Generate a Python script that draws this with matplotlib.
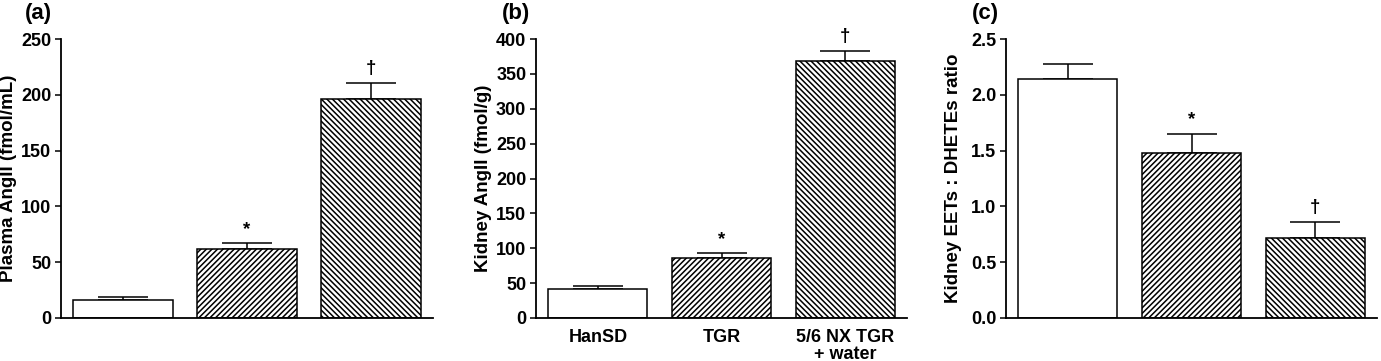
import numpy as np
import matplotlib
matplotlib.use('Agg')
import matplotlib.pyplot as plt

# data
groups = ['HanSD', 'TGR', '5/6 NX TGR\n+ water']
plasma_ang = [16, 62, 196]
plasma_err = [3, 5, 15]
kidney_ang = [41.5, 86.5, 369]
kidney_err = [4.5, 6, 14]
eet_ratio = [2.14, 1.48, 0.72]
eet_err = [0.135, 0.17, 0.14]

signif = ['', '*', '\u2020']
hatches = ['', '//////', '\\\\\\\\\\\\']

plt.rcParams['font.family'] = ['Liberation Sans', 'DejaVu Sans']
plt.rcParams['font.weight'] = 'bold'
plt.rcParams['hatch.linewidth'] = 1.1

fig = plt.figure(figsize=(13.81, 3.61), dpi=100)

panels = [
    # left, right, values, errors, ylim, ticks, ylabel, tick fmt, letter, letter x, show x labels
    (61, 433, plasma_ang, plasma_err, 250, np.arange(0, 251, 50), 'Plasma AngII (fmol/mL)', '{:.0f}', '(a)', 25, False),
    (536, 907, kidney_ang, kidney_err, 400, np.arange(0, 401, 50), 'Kidney AngII (fmol/g)', '{:.0f}', '(b)', 502, True),
    (1006, 1377, eet_ratio, eet_err, 2.5, np.arange(0, 2.51, 0.5), 'Kidney EETs : DHETEs ratio', '{:.1f}', '(c)', 972, False),
]
W, H = 1381, 361
bottom, top = 318, 39
for left, right, vals, errs, ymax, ticks, ylab, fmt, letter, lx, xlabels in panels:
    ax = fig.add_axes([left / W, 1 - bottom / H, (right - left) / W, (bottom - top) / H])
    x = np.arange(len(vals))
    for i in range(len(vals)):
        ax.bar(x[i], vals[i], width=0.8, color='white', edgecolor='black',
               linewidth=1.1, hatch=hatches[i], zorder=2)
    ax.errorbar(x, vals, yerr=[np.zeros(len(errs)), errs], fmt='none',
                ecolor='black', elinewidth=1.1, capsize=18, capthick=1.1, zorder=1)
    for i in range(len(vals)):
        if signif[i]:
            ax.annotate(signif[i], (x[i], vals[i] + errs[i]), xytext=(0, 4),
                        textcoords='offset points', ha='center', va='bottom',
                        fontsize=13.5, fontweight='bold')
    ax.set_xlim(-0.5, 2.5)
    ax.set_ylim(0, ymax)
    ax.set_yticks(ticks)
    ax.set_yticklabels([fmt.format(t) for t in ticks], fontsize=13, fontweight='bold')
    ax.set_xticks(x)
    if xlabels:
        ax.set_xticklabels(groups, fontsize=13, fontweight='bold', linespacing=1.0)
    else:
        ax.set_xticklabels([])
    ax.tick_params(axis='x', length=0, pad=8)
    ax.tick_params(axis='y', length=4, width=1.1, direction='out', pad=3)
    for s in ['top', 'right']:
        ax.spines[s].set_visible(False)
    for s in ['left', 'bottom']:
        ax.spines[s].set_linewidth(1.3)
    ax.set_ylabel(ylab, fontsize=13.5, fontweight='bold')
    ax.yaxis.set_label_coords(-44 / (right - left), 0.5)
    fig.text(lx / W, 1 - 3 / H, letter, fontsize=16, fontweight='bold', va='top', ha='left')

fig.savefig('out.png', dpi=100)
